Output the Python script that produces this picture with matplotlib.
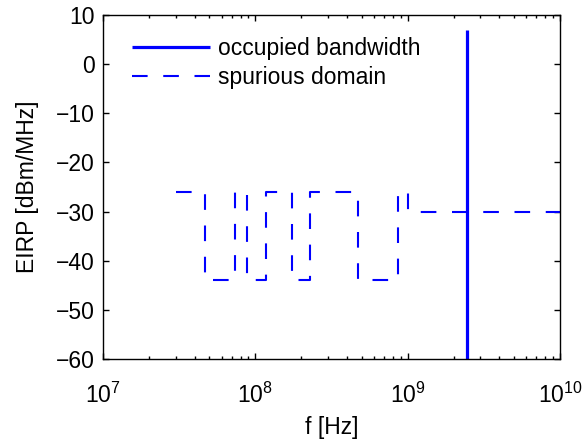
import numpy as np
import matplotlib.pyplot as plt
from matplotlib.ticker import LogLocator, FixedLocator

plt.rcParams['font.family'] = ['Liberation Sans', 'DejaVu Sans']
plt.rcParams['mathtext.fontset'] = 'custom'
plt.rcParams['mathtext.rm'] = 'Liberation Sans'

#-- Emission mask (spurious domain), step corners [Hz], [dBm/MHz] --
spur_f = [30e6, 47e6, 47e6, 74e6, 74e6, 87.5e6, 87.5e6, 118e6, 118e6,
          174e6, 174e6, 230e6, 230e6, 470e6, 470e6, 862e6, 862e6,
          1e9, 1e9, 10e9]
spur_p = [-26, -26, -44, -44, -26, -26, -44, -44, -26,
          -26, -44, -44, -26, -26, -44, -44, -26,
          -26, -30, -30]

#-- Occupied bandwidth --
occ_f = [2.45e9, 2.45e9]
occ_p = [-60, 7]

fs = 16.5

fig = plt.figure(figsize=(5.84, 4.41), dpi=100)
ax = fig.add_axes([0.1764, 0.1859, 0.7825, 0.7801])

ax.plot(occ_f, occ_p, color='blue', lw=2.3, solid_capstyle='butt',
        label='occupied bandwidth')
ax.plot(spur_f, spur_p, color='blue', lw=1.5, dashes=(7.5, 7.5),
        label='spurious domain')

ax.set_xscale('log')
ax.set_xlim(1e7, 1e10)
ax.set_ylim(-60, 10)
ax.set_yticks(np.arange(-60, 11, 10))
ax.xaxis.set_major_locator(FixedLocator([1e7, 1e8, 1e9, 1e10]))
ax.xaxis.set_minor_locator(LogLocator(base=10, subs=np.arange(2, 10)))

ax.set_xlabel('f [Hz]', fontsize=fs, labelpad=6)
ax.set_ylabel('EIRP [dBm/MHz]', fontsize=fs, labelpad=12)

ax.tick_params(which='both', direction='in', top=True, right=True,
               labelsize=fs, width=1.0)
ax.tick_params(which='major', length=4)
ax.tick_params(which='minor', length=2.2)
ax.tick_params(axis='y', which='major', pad=6)
ax.tick_params(axis='x', which='major', pad=17)
for s in ax.spines.values():
    s.set_linewidth(1.0)

ax.legend(loc='upper left', frameon=False, fontsize=fs, handlelength=3.4,
          handletextpad=0.35, borderaxespad=0.3, labelspacing=0.25,
          bbox_to_anchor=(0.029, 0.983))

fig.savefig('out.png', dpi=100)
